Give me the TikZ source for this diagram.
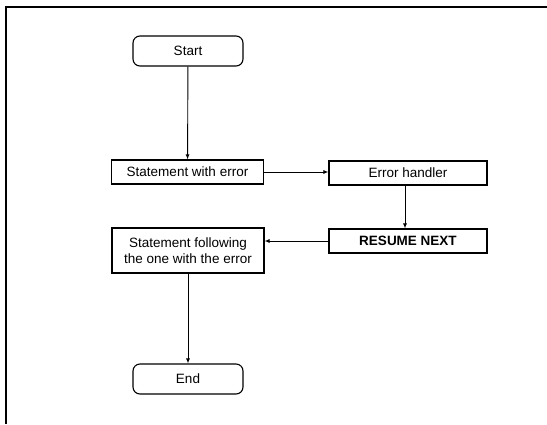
\documentclass[tikz,border=0pt]{standalone}
\usepackage{fontspec}
\setmainfont{Liberation Sans}
\usetikzlibrary{arrows.meta}

\begin{document}
\begin{tikzpicture}[x=1pt, y=-1pt,
    every node/.style={font=\fontsize{13.5}{16}\selectfont},
    terminal/.style={draw, line width=1.1pt, rounded corners=7pt,
        minimum width=110pt, minimum height=30pt, inner sep=0pt},
    stmt/.style={draw, line width=1.1pt, minimum width=152pt,
        minimum height=24pt, inner sep=0pt, align=center},
    flow/.style={line width=0.9pt, -{Latex[length=5pt,width=4pt]}}]

    % Fix the page size
    \useasboundingbox (0,0) rectangle (547,424);

    % Open frame: top and left edges only
    \draw[line width=1.1pt] (547,7) -- (6,7) -- (6,424);

    % Terminals
    \node[terminal] (start) at (188,51) {Start};
    \node[terminal] (end) at (188,379) {End};

    % Statements
    \node[stmt] (witherr) at (187.5,172) {Statement with error};
    \node[stmt, minimum width=158pt] (handler) at (408,173) {Error handler};
    \node[stmt, minimum width=158pt, font=\fontsize{13.5}{16}\selectfont\bfseries] (resume) at (408,241) {RESUME NEXT};
    \node[stmt, minimum height=45pt] (following) at (188,250.5)
        {Statement following\\the one with the error};

    % Connectors
    \draw[flow] (start) -- (witherr);
    \draw[flow] (witherr) -- (handler.west |- witherr);
    \draw[flow] (handler.south -| 405,0) -- (resume.north -| 405,0);
    \draw[flow] (resume.west) -- (following.east |- resume.west);
    \draw[flow] (following) -- (end);

\end{tikzpicture}
\end{document}
